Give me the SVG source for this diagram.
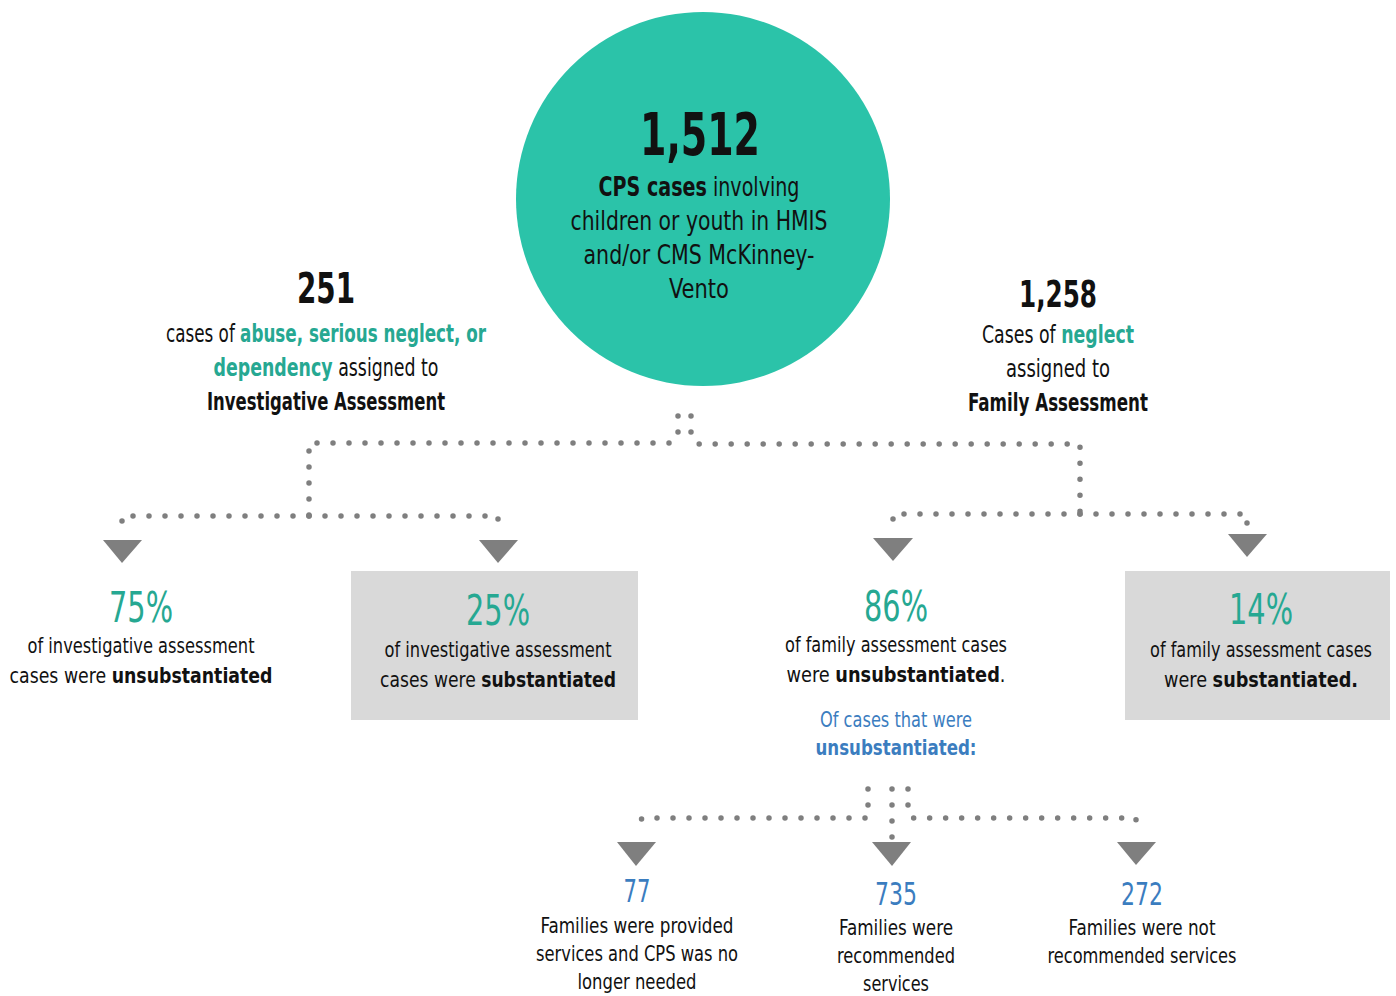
<svg xmlns="http://www.w3.org/2000/svg" width="1396" height="996" viewBox="0 0 1396 996">
<style>
text{font-family:"DejaVu Sans Condensed","Liberation Sans",sans-serif;text-anchor:middle;fill:#111}
.b{font-weight:bold}
.t{fill:#26a892}
.bl{fill:#3b7dbf}
.big{font-size:42px;fill:#26a892}
.body{font-size:22px}
.lab{font-size:24px}
.dot{fill:none;stroke:#7f7f7f;stroke-width:5.5;stroke-linecap:round;stroke-dasharray:0 16}
.arr{fill:#7f7f7f}
</style>
<rect width="1396" height="996" fill="#fff"/>
<g id="connectors">
<path class="dot" d="M678 416 V435 L672 443 H309 V516"/>
<path class="dot" d="M309 516 H122 V532"/>
<path class="dot" d="M309 516 H498 V528"/>
<path class="dot" d="M691 416 V435 L697 444 H1080 V514"/>
<path class="dot" d="M1080 514 H893 V528"/>
<path class="dot" d="M1080 514 H1247 V528"/>
<path class="dot" d="M868 789 V818 H642 L636 830"/>
<path class="dot" d="M892 789 V838"/>
<path class="dot" d="M908 789 V805 L911 818 H1136 V834"/>
<polygon class="arr" points="103,540 142,540 122,563"/>
<polygon class="arr" points="479,540 518,540 498,563"/>
<polygon class="arr" points="873,538 913,538 893,561"/>
<polygon class="arr" points="1228,534 1267,534 1247,557"/>
<polygon class="arr" points="617,842 656,842 636,866"/>
<polygon class="arr" points="872,842 911,842 892,866"/>
<polygon class="arr" points="1117,842 1156,842 1136,865"/>
</g>
<g id="total">
<circle cx="703" cy="199" r="187" fill="#2bc3a9"/>
<text x="700" y="155" class="b" style="font-size:58px" textLength="120" lengthAdjust="spacingAndGlyphs">1,512</text>
<text x="699" y="196" style="font-size:26px" textLength="201" lengthAdjust="spacingAndGlyphs"><tspan class="b">CPS cases</tspan> involving</text>
<text x="699" y="230" style="font-size:26px" textLength="257" lengthAdjust="spacingAndGlyphs">children or youth in HMIS</text>
<text x="699" y="264" style="font-size:26px" textLength="231" lengthAdjust="spacingAndGlyphs">and/or CMS McKinney-</text>
<text x="699" y="298" style="font-size:26px" textLength="60" lengthAdjust="spacingAndGlyphs">Vento</text>
</g>
<g id="investigative">
<text x="326" y="303" class="b" style="font-size:42px" textLength="58" lengthAdjust="spacingAndGlyphs">251</text>
<text x="326" y="342" class="lab" textLength="320" lengthAdjust="spacingAndGlyphs">cases of <tspan class="b t">abuse, serious neglect, or</tspan></text>
<text x="326" y="376" class="lab" textLength="225" lengthAdjust="spacingAndGlyphs"><tspan class="b t">dependency</tspan> assigned to</text>
<text x="326" y="410" class="lab b" textLength="238" lengthAdjust="spacingAndGlyphs">Investigative Assessment</text>
</g>
<g id="family">
<text x="1058" y="307" class="b" style="font-size:38px" textLength="78" lengthAdjust="spacingAndGlyphs">1,258</text>
<text x="1058" y="343" class="lab" textLength="152" lengthAdjust="spacingAndGlyphs">Cases of <tspan class="b t">neglect</tspan></text>
<text x="1058" y="377" class="lab" textLength="104" lengthAdjust="spacingAndGlyphs">assigned to</text>
<text x="1058" y="411" class="lab b" textLength="180" lengthAdjust="spacingAndGlyphs">Family Assessment</text>
</g>
<g id="inv-unsub">
<text x="141" y="622" class="big" textLength="64" lengthAdjust="spacingAndGlyphs">75%</text>
<text x="141" y="653" class="body" textLength="227" lengthAdjust="spacingAndGlyphs">of investigative assessment</text>
<text x="141" y="683" class="body" textLength="263" lengthAdjust="spacingAndGlyphs">cases were <tspan class="b">unsubstantiated</tspan></text>
</g>
<g id="inv-sub">
<rect x="351" y="571" width="287" height="149" fill="#d9d9d9"/>
<text x="498" y="625" class="big" textLength="64" lengthAdjust="spacingAndGlyphs">25%</text>
<text x="498" y="657" class="body" textLength="227" lengthAdjust="spacingAndGlyphs">of investigative assessment</text>
<text x="498" y="687" class="body" textLength="236" lengthAdjust="spacingAndGlyphs">cases were <tspan class="b">substantiated</tspan></text>
</g>
<g id="fam-unsub">
<text x="896" y="621" class="big" textLength="64" lengthAdjust="spacingAndGlyphs">86%</text>
<text x="896" y="652" class="body" textLength="222" lengthAdjust="spacingAndGlyphs">of family assessment cases</text>
<text x="896" y="682" class="body" textLength="219" lengthAdjust="spacingAndGlyphs">were <tspan class="b">unsubstantiated</tspan>.</text>
<text x="896" y="727" class="body bl" textLength="152" lengthAdjust="spacingAndGlyphs">Of cases that were</text>
<text x="896" y="755" class="body bl b" textLength="161" lengthAdjust="spacingAndGlyphs">unsubstantiated:</text>
</g>
<g id="fam-sub">
<rect x="1125" y="571" width="265" height="149" fill="#d9d9d9"/>
<text x="1261" y="624" class="big" textLength="64" lengthAdjust="spacingAndGlyphs">14%</text>
<text x="1261" y="657" class="body" textLength="222" lengthAdjust="spacingAndGlyphs">of family assessment cases</text>
<text x="1261" y="687" class="body" textLength="194" lengthAdjust="spacingAndGlyphs">were <tspan class="b">substantiated.</tspan></text>
</g>
<g id="provided">
<text x="637" y="902" class="bl" style="font-size:32px" textLength="27" lengthAdjust="spacingAndGlyphs">77</text>
<text x="637" y="933" class="body" textLength="193" lengthAdjust="spacingAndGlyphs">Families were provided</text>
<text x="637" y="961" class="body" textLength="202" lengthAdjust="spacingAndGlyphs">services and CPS was no</text>
<text x="637" y="989" class="body" textLength="119" lengthAdjust="spacingAndGlyphs">longer needed</text>
</g>
<g id="recommended">
<text x="896" y="905" class="bl" style="font-size:32px" textLength="42" lengthAdjust="spacingAndGlyphs">735</text>
<text x="896" y="935" class="body" textLength="114" lengthAdjust="spacingAndGlyphs">Families were</text>
<text x="896" y="963" class="body" textLength="118" lengthAdjust="spacingAndGlyphs">recommended</text>
<text x="896" y="991" class="body" textLength="66" lengthAdjust="spacingAndGlyphs">services</text>
</g>
<g id="not-recommended">
<text x="1142" y="905" class="bl" style="font-size:32px" textLength="42" lengthAdjust="spacingAndGlyphs">272</text>
<text x="1142" y="935" class="body" textLength="147" lengthAdjust="spacingAndGlyphs">Families were not</text>
<text x="1142" y="963" class="body" textLength="189" lengthAdjust="spacingAndGlyphs">recommended services</text>
</g>
</svg>
